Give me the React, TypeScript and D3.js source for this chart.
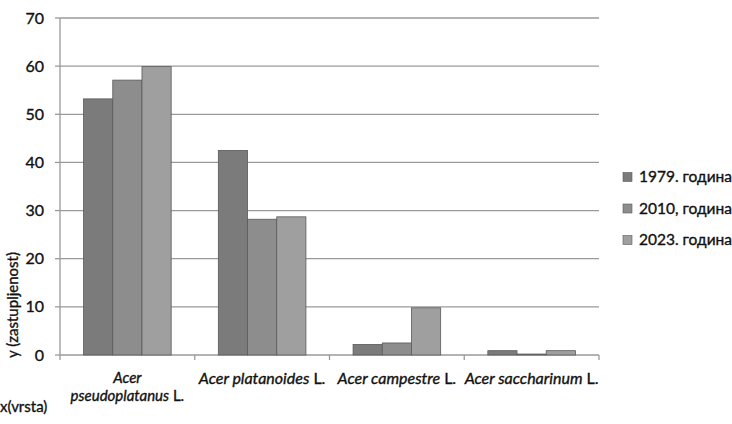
import React from "react";
import * as d3 from "d3";

const categories = ["pseudoplatanus", "platanoides", "campestre", "saccharinum"];
const seriesNames = ["1979. година", "2010, година", "2023. година"];
const values1979 = [53.2, 42.5, 2.2, 0.9];
const values2010 = [57.1, 28.2, 2.5, 0.2];
const values2023 = [59.9, 28.7, 9.8, 0.9];
const yTicks = [0, 10, 20, 30, 40, 50, 60, 70];
const colors = ["#7b7b7b", "#8d8d8d", "#9f9f9f"];

const W = 732;
const H = 424;
const left = 60;
const right = 599;
const top = 18;
const bottom = 355;
const font = "Lato, 'DejaVu Sans', sans-serif";
const txt = { fill: "#111", stroke: "#111", strokeWidth: 0.35 } as const;

export default function App() {
  const series = [values1979, values2010, values2023];
  const x = d3.scaleBand<string>().domain(categories).range([left, right]).paddingInner(0.35).paddingOuter(0.175);
  const x1 = d3.scaleBand<number>().domain([0, 1, 2]).range([0, x.bandwidth()]);
  const y = d3.scaleLinear().domain([0, 70]).range([bottom, top]);
  const catTicks = d3.range(categories.length + 1).map((i) => left + (i * (right - left)) / categories.length);

  return (
    <svg width={W} height={H} style={{ position: "absolute", left: 0, top: 0, background: "#fff" }} fontFamily={font}>
      {yTicks.map((t) => (
        <g key={t}>
          {t > 0 && <line x1={left} x2={right} y1={y(t)} y2={y(t)} stroke="#9a9a9a" strokeWidth={1.3} />}
          <line x1={left - 5} x2={left} y1={y(t)} y2={y(t)} stroke="#9a9a9a" strokeWidth={1.3} />
          <text x={44} y={y(t)} dy="0.35em" textAnchor="end" fontSize={16} {...txt}>{t}</text>
        </g>
      ))}
      <line x1={left} x2={left} y1={top} y2={bottom} stroke="#9a9a9a" strokeWidth={1.3} />
      <line x1={left} x2={right} y1={bottom} y2={bottom} stroke="#9a9a9a" strokeWidth={1.3} />
      {catTicks.map((cx, i) => (
        <line key={i} x1={cx} x2={cx} y1={bottom} y2={bottom + 5} stroke="#9a9a9a" strokeWidth={1.3} />
      ))}
      {categories.map((c, ci) => (
        <g key={c}>
          {series.map((vals, si) => (
            <rect
              key={si}
              x={(x(c) as number) + (x1(si) as number)}
              y={y(vals[ci])}
              width={x1.bandwidth()}
              height={bottom - y(vals[ci])}
              fill={colors[si]}
              stroke="#5a5a5a"
              strokeWidth={0.8}
            />
          ))}
        </g>
      ))}
      <text x={(x(categories[0]) as number) + x.bandwidth() / 2} y={382.5} textAnchor="middle" fontSize={15} fontStyle="italic" {...txt}>Acer</text>
      <text x={(x(categories[0]) as number) + x.bandwidth() / 2} y={401} textAnchor="middle" fontSize={15} {...txt}>
        <tspan fontStyle="italic">pseudoplatanus</tspan> L.
      </text>
      {categories.slice(1).map((c) => (
        <text key={c} x={(x(c) as number) + x.bandwidth() / 2} y={384} textAnchor="middle" fontSize={16} {...txt}>
          <tspan fontStyle="italic">{"Acer " + c}</tspan> L.
        </text>
      ))}
      <text x={0} y={412} fontSize={15} {...txt}>x(vrsta)</text>
      <text transform="translate(18,305) rotate(-90)" textAnchor="middle" fontSize={15} {...txt}>y (zastupljenost)</text>
      {seriesNames.map((s, i) => (
        <g key={s} transform={`translate(623,${177 + i * 31.5})`}>
          <rect x={0} y={-4.5} width={9} height={9} fill={colors[i]} stroke="#5a5a5a" strokeWidth={0.6} />
          <text x={16} y={0} dy="0.35em" fontSize={15.5} {...txt}>{s}</text>
        </g>
      ))}
    </svg>
  );
}
